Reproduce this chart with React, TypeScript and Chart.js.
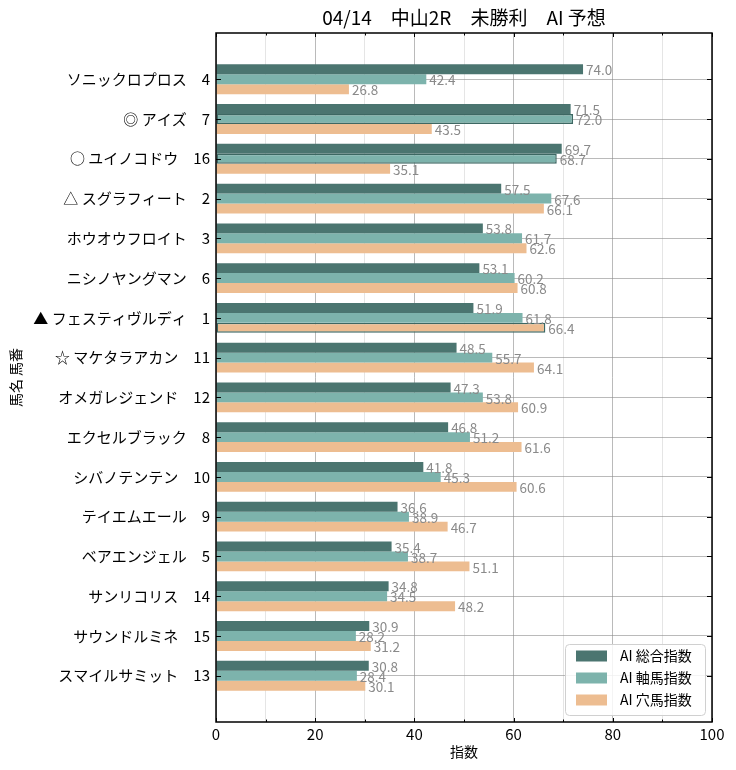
import React, { useEffect, useRef } from 'react';
import { Chart, registerables } from 'chart.js';

Chart.register(...registerables);

const FONT = "'Noto Sans CJK JP', 'Noto Sans', sans-serif";

const titleText = '04/14　中山2R　未勝利　AI 予想';
const xAxisTitle = '指数';
const yAxisTitle = '馬名 馬番';

const horseNames = [
  'ソニックロプロス',
  '◎ アイズ',
  '○ ユイノコドウ',
  '△ スグラフィート',
  'ホウオウフロイト',
  'ニシノヤングマン',
  '▲ フェスティヴルディ',
  '☆ マケタラアカン',
  'オメガレジェンド',
  'エクセルブラック',
  'シバノテンテン',
  'テイエムエール',
  'ベアエンジェル',
  'サンリコリス',
  'サウンドルミネ',
  'スマイルサミット',
];
const horseNumbers = [4, 7, 16, 2, 3, 6, 1, 11, 12, 8, 10, 9, 5, 14, 15, 13];

const seriesNames = ['AI 総合指数', 'AI 軸馬指数', 'AI 穴馬指数'];
const sogoValues = [74.0, 71.5, 69.7, 57.5, 53.8, 53.1, 51.9, 48.5, 47.3, 46.8, 41.8, 36.6, 35.4, 34.8, 30.9, 30.8];
const jikuValues = [42.4, 72.0, 68.7, 67.6, 61.7, 60.2, 61.8, 55.7, 53.8, 51.2, 45.3, 38.9, 38.7, 34.5, 28.2, 28.4];
const anaValues = [26.8, 43.5, 35.1, 66.1, 62.6, 60.8, 66.4, 64.1, 60.9, 61.6, 60.6, 46.7, 51.1, 48.2, 31.2, 30.1];

// which bars carry an outline (index of horse) per series
const sogoOutlined: number[] = [];
const jikuOutlined = [1, 2];
const anaOutlined = [6];

const xTickValues = [0, 20, 40, 60, 80, 100];

const COLORS = ['#4b7570', '#7db3ac', '#edbd91'];
const OUTLINE = '#3d6863';

const yLabels = horseNames.map((n, i) => `${n}　${horseNumbers[i]}`);

const overlayPlugin = {
  id: 'overlay',
  afterDraw(chart: any) {
    const ctx = chart.ctx;
    const { left, right, top, bottom } = chart.chartArea;
    const xs = chart.scales.x;
    const ys = chart.scales.y;
    ctx.save();

    // value labels
    ctx.font = `13.5px ${FONT}`;
    ctx.fillStyle = '#8a8a8a';
    ctx.textAlign = 'left';
    ctx.textBaseline = 'middle';
    chart.data.datasets.forEach((ds: any, di: number) => {
      const meta = chart.getDatasetMeta(di);
      meta.data.forEach((el: any, i: number) => {
        const v = ds.data[i].x;
        ctx.fillText(v.toFixed(1), el.x + 3, el.y + 1);
      });
    });

    // frame
    ctx.strokeStyle = '#000';
    ctx.lineWidth = 1.5;
    ctx.strokeRect(left, top, right - left, bottom - top);

    // ticks inward
    ctx.lineWidth = 1;
    ctx.beginPath();
    for (let v = 0; v <= 100; v += 10) {
      const px = Math.round(xs.getPixelForValue(v)) + 0.5;
      const len = v % 20 === 0 ? 4 : 2.5;
      ctx.moveTo(px, bottom);
      ctx.lineTo(px, bottom - len);
      ctx.moveTo(px, top);
      ctx.lineTo(px, top + len);
    }
    horseNames.forEach((_, i) => {
      const py = Math.round(ys.getPixelForValue(i)) + 0.5;
      ctx.moveTo(left, py);
      ctx.lineTo(left + 5, py);
      ctx.moveTo(right, py);
      ctx.lineTo(right - 5, py);
    });
    ctx.stroke();

    // title
    ctx.fillStyle = '#000';
    ctx.font = `19px ${FONT}`;
    ctx.textAlign = 'center';
    ctx.textBaseline = 'middle';
    ctx.fillText(titleText, (left + right) / 2, 18);

    // x title
    ctx.font = `14px ${FONT}`;
    ctx.fillText(xAxisTitle, (left + right) / 2, 752);

    // y title
    ctx.save();
    ctx.translate(16, (top + bottom) / 2);
    ctx.rotate(-Math.PI / 2);
    ctx.fillText(yAxisTitle, 0, 0);
    ctx.restore();

    // legend
    const bw = 140;
    const bh = 71;
    const bx = right - 7 - bw;
    const by = bottom - 7 - bh;
    ctx.fillStyle = 'rgba(255,255,255,0.85)';
    ctx.strokeStyle = '#d0d0d0';
    ctx.lineWidth = 1;
    ctx.beginPath();
    (ctx as any).roundRect(bx + 0.5, by + 0.5, bw, bh, 4);
    ctx.fill();
    ctx.stroke();
    ctx.font = `14px ${FONT}`;
    ctx.textAlign = 'left';
    ctx.textBaseline = 'middle';
    seriesNames.forEach((name, i) => {
      const cy = by + 12 + i * 22;
      ctx.fillStyle = COLORS[i];
      ctx.fillRect(bx + 11, cy - 5.5, 31, 11);
      ctx.fillStyle = '#000';
      ctx.fillText(name, bx + 55, cy);
    });

    ctx.restore();
  },
};

function makeDataset(label: string, values: number[], color: string, outlined: number[]) {
  return {
    label,
    data: values.map((v, i) => ({ x: v, y: i })),
    backgroundColor: color,
    borderColor: OUTLINE,
    borderWidth: values.map((_, i) => (outlined.includes(i) ? 1.5 : 0)),
    borderSkipped: false,
    categoryPercentage: 0.75,
    barPercentage: 1.0,
  };
}

export default function App() {
  const ref = useRef<HTMLCanvasElement>(null);
  useEffect(() => {
    document.body.style.margin = '0';
    const chart = new Chart(ref.current as HTMLCanvasElement, {
      type: 'bar',
      data: {
        datasets: [
          makeDataset(seriesNames[0], sogoValues, COLORS[0], sogoOutlined),
          makeDataset(seriesNames[1], jikuValues, COLORS[1], jikuOutlined),
          makeDataset(seriesNames[2], anaValues, COLORS[2], anaOutlined),
        ] as any,
      },
      options: {
        indexAxis: 'y',
        responsive: false,
        animation: false,
        devicePixelRatio: 1,
        layout: { padding: { top: 33, right: 24, left: 0, bottom: 0 } },
        plugins: {
          legend: { display: false },
          title: { display: false },
          tooltip: { enabled: false },
        },
        scales: {
          x: {
            type: 'linear',
            position: 'bottom',
            min: 0,
            max: 100,
            z: 1,
            offset: false,
            afterBuildTicks: (s: any) => {
              const t = [];
              for (let v = 0; v <= 100; v += 10) t.push({ value: v });
              s.ticks = t;
            },
            afterFit: (s: any) => {
              s.height = 48;
            },
            ticks: {
              autoSkip: false,
              maxRotation: 0,
              padding: 3,
              color: '#000',
              font: { size: 15, family: FONT },
              callback: (v: any) => (xTickValues.includes(v) ? String(v) : ''),
            },
            grid: {
              offset: false,
              drawTicks: false,
              lineWidth: 1,
              color: (c: any) =>
                c.tick && c.tick.value % 20 === 0 ? 'rgba(140,140,140,0.6)' : 'rgba(170,170,170,0.3)',
            },
            border: { display: false },
          },
          y: {
            type: 'linear',
            position: 'left',
            min: -1.1625,
            max: 16.1625,
            reverse: true,
            offset: false,
            z: 1,
            afterBuildTicks: (s: any) => {
              s.ticks = horseNames.map((_, i) => ({ value: i }));
            },
            afterFit: (s: any) => {
              s.width = 216;
            },
            ticks: {
              autoSkip: false,
              padding: 6,
              color: '#000',
              font: { size: 15, family: FONT },
              callback: (v: any) => yLabels[v] ?? '',
            },
            grid: {
              offset: false,
              drawTicks: false,
              lineWidth: 1,
              color: 'rgba(140,140,140,0.6)',
            },
            border: { display: false },
          },
        },
      } as any,
      plugins: [overlayPlugin],
    });
    return () => chart.destroy();
  }, []);
  return (
    <div style={{ width: 736, height: 770 }}>
      <canvas ref={ref} width={736} height={770} style={{ display: 'block' }} />
    </div>
  );
}
